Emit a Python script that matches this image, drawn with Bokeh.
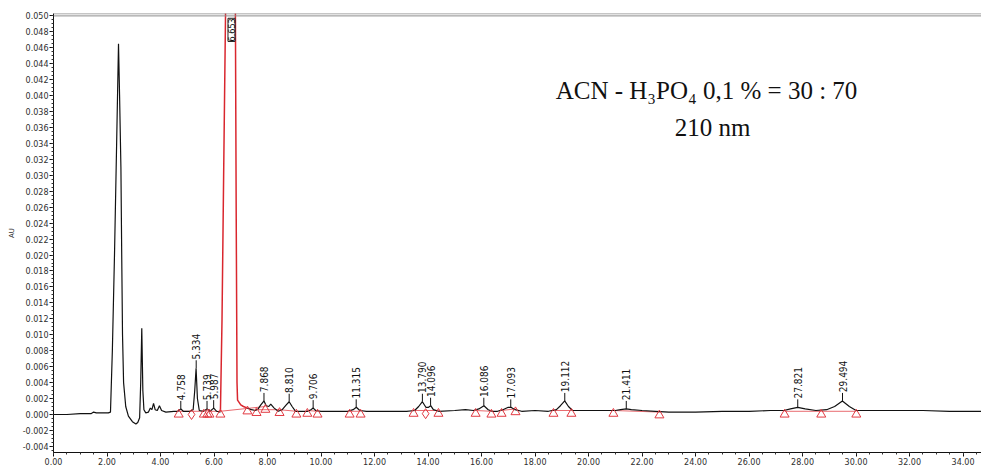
import math
from bokeh.plotting import figure
from bokeh.models import FixedTicker, PrintfTickFormatter, Span, Label, ColumnDataSource
from bokeh.core.properties import value
from bokeh.embed import file_html
from bokeh.resources import INLINE

# ---------------- data ----------------
# black detector trace (minutes, AU)
trace_t = [0.00, 0.50, 1.00, 1.40, 1.50, 1.60, 1.80, 2.05, 2.13, 2.20, 2.28, 2.36, 2.43,
           2.47, 2.52, 2.55, 2.58, 2.62, 2.70, 2.80, 2.95, 3.08, 3.15, 3.22, 3.26, 3.30,
           3.34, 3.38, 3.45, 3.55, 3.62, 3.68, 3.74, 3.80, 3.88, 3.96, 4.04, 4.20, 4.50,
           4.65, 4.76, 4.85, 5.10, 5.22, 5.28, 5.33, 5.38, 5.45, 5.60, 5.74, 5.85, 5.99,
           6.10, 6.24]
trace_v = [0.0000, 0.0000, 0.0001, 0.0001, 0.0003, 0.0002, 0.0002, 0.0002, 0.0003, 0.0080,
           0.0200, 0.0340, 0.0465, 0.0400, 0.0310, 0.0200, 0.0100, 0.0040, 0.0010, -0.0002,
           -0.0009, -0.0012, -0.0010, -0.0004, 0.0040, 0.0108, 0.0030, 0.0006, 0.0002, 0.0003,
           0.0008, 0.0006, 0.0014, 0.0006, 0.0005, 0.0011, 0.0005, 0.0003, 0.0004, 0.0004,
           0.0007, 0.0004, 0.0004, 0.0006, 0.0030, 0.0058, 0.0020, 0.0005, 0.0004, 0.0007,
           0.0004, 0.0008, 0.0004, 0.0003]

trace2_t = [7.25, 7.40, 7.55, 7.65, 7.75, 7.87, 7.95, 8.05, 8.12, 8.25, 8.40, 8.55, 8.70,
            8.81, 8.92, 9.05, 9.30, 9.50, 9.62, 9.71, 9.80, 10.0, 10.5, 11.0, 11.2, 11.32,
            11.45, 11.7, 12.5, 13.2, 13.5, 13.65, 13.79, 13.92, 14.02, 14.10, 14.2, 14.4,
            15.0, 15.4, 15.7, 15.9, 16.09, 16.25, 16.4, 16.6, 16.8, 17.0, 17.1, 17.25, 17.5,
            18.0, 18.5, 18.8, 18.95, 19.11, 19.25, 19.4, 20.0, 20.5, 21.0, 21.2, 21.41, 21.6,
            22.0, 22.5, 23.0, 24.0, 25.0, 26.0, 26.8, 27.3, 27.55, 27.82, 28.1, 28.5, 28.9,
            29.2, 29.49, 29.75, 30.0, 30.5, 31.5, 32.5, 33.5, 34.7]
trace2_v = [0.0008, 0.0006, 0.0005, 0.0007, 0.0012, 0.0017, 0.0011, 0.0010, 0.0013, 0.0008,
            0.0004, 0.0006, 0.0012, 0.0016, 0.0010, 0.0004, 0.0004, 0.0004, 0.0006, 0.0008,
            0.0005, 0.0004, 0.0004, 0.0004, 0.0006, 0.0009, 0.0005, 0.0004, 0.0004, 0.0004,
            0.0005, 0.0010, 0.0016, 0.0009, 0.0009, 0.0011, 0.0006, 0.0004, 0.0005, 0.0006,
            0.0005, 0.0007, 0.0011, 0.0006, 0.0004, 0.0004, 0.0006, 0.0009, 0.0009, 0.0006,
            0.0004, 0.0005, 0.0004, 0.0006, 0.0011, 0.0017, 0.0010, 0.0005, 0.0005, 0.0005,
            0.0005, 0.0006, 0.0007, 0.0006, 0.0005, 0.0004, 0.0003, 0.0003, 0.0004, 0.0004,
            0.0005, 0.0005, 0.0007, 0.0009, 0.0007, 0.0005, 0.0006, 0.0010, 0.0017, 0.0010,
            0.0005, 0.0005, 0.0005, 0.0005, 0.0004, 0.0004]

# integrated main peak (red, off scale)
peak_t = [6.24, 6.30, 6.36, 6.43, 6.50, 6.65, 6.76, 6.80, 6.83, 6.86, 6.88, 7.00, 7.10, 7.25]
peak_v = [0.0004, 0.0120, 0.0300, 0.0500, 0.1000, 0.2000, 0.1000, 0.0500, 0.0250, 0.0040,
          0.0018, 0.0012, 0.0010, 0.0008]
main_peak_label = "6.653"
main_peak_time = 6.653

# labelled peaks
label_times = [4.758, 5.334, 5.739, 5.987, 7.868, 8.810, 9.706, 11.315, 13.790, 14.096,
               16.086, 17.093, 19.112, 21.411, 27.821, 29.494]
label_texts = ["4.758", "5.334", "5.739", "5.987", "7.868", "8.810", "9.706", "11.315",
               "13.790", "14.096", "16.086", "17.093", "19.112", "21.411", "27.821", "29.494"]
label_apex = [0.0007, 0.0058, 0.0007, 0.0008, 0.0017, 0.0016, 0.0008, 0.0009, 0.0016, 0.0011,
              0.0011, 0.0009, 0.0017, 0.0007, 0.0009, 0.0017]

# peak start / end markers
tri_t = [4.68, 5.62, 5.75, 5.83, 6.24, 7.25, 7.59, 7.92, 8.45, 9.08, 9.49, 9.87, 11.07, 11.48,
         13.46, 14.39, 15.78, 16.37, 16.75, 17.27, 18.69, 19.36, 20.93, 22.65, 27.33, 28.70, 30.01]
tri_y = [0.0000, 0.0000, 0.0000, 0.0000, 0.0000, 0.0004, 0.0002, 0.0006, 0.0002, 0.0000,
         0.0001, 0.0000, 0.0000, 0.0000, 0.0001, 0.0001, 0.0001, 0.0000, 0.0001, 0.0003,
         0.0001, 0.0001, 0.0001, -0.0001, 0.0000, 0.0000, 0.0000]
dia_t = [5.16, 13.91]
dia_y = [0.0000, 0.0001]

# integration baselines
bl_t0 = [4.68, 5.16, 5.83, 6.24, 7.59, 8.45, 9.49, 11.07, 13.46, 13.91, 15.78, 16.75, 18.69, 20.93, 27.33, 28.70]
bl_t1 = [5.16, 5.62, 6.24, 7.92, 8.45, 9.08, 9.87, 11.48, 13.91, 14.39, 16.37, 17.27, 19.36, 22.65, 28.70, 30.01]
bl_y0 = [0.0004, 0.0004, 0.0004, 0.0004, 0.0006, 0.0006, 0.0005, 0.0004, 0.0005, 0.0005, 0.0005, 0.0005, 0.0005, 0.0005, 0.0004, 0.0004]
bl_y1 = [0.0004, 0.0004, 0.0004, 0.0010, 0.0006, 0.0004, 0.0004, 0.0004, 0.0005, 0.0005, 0.0004, 0.0007, 0.0005, 0.0003, 0.0004, 0.0004]

x_ticks = [0, 2, 4, 6, 8, 10, 12, 14, 16, 18, 20, 22, 24, 26, 28, 30, 32, 34]
y_ticks = [-0.004, -0.002, 0.000, 0.002, 0.004, 0.006, 0.008, 0.010, 0.012, 0.014, 0.016,
           0.018, 0.020, 0.022, 0.024, 0.026, 0.028, 0.030, 0.032, 0.034, 0.036, 0.038,
           0.040, 0.042, 0.044, 0.046, 0.048, 0.050]

title_line1 = "ACN - H\u2083PO\u2084 0,1 % = 30 : 70"
title_line2 = "210 nm"

# ---------------- figure ----------------
p = figure(width=981, height=468, output_backend="svg", toolbar_location=None,
           x_range=(0, 34.69), y_range=(-0.00477, 0.0503),
           min_border_left=53, min_border_right=0, min_border_top=13, min_border_bottom=16)
p.outline_line_color = None
p.grid.visible = False
p.background_fill_color = "white"
p.border_fill_color = "white"

x_minor = [i * 0.5 for i in range(0, 70)]
y_minor = [-0.0045 + i * 0.0005 for i in range(0, 110)]
p.xaxis.ticker = FixedTicker(ticks=x_ticks, minor_ticks=x_minor)
p.yaxis.ticker = FixedTicker(ticks=y_ticks, minor_ticks=y_minor)
p.xaxis.formatter = PrintfTickFormatter(format="%.2f")
p.yaxis.formatter = PrintfTickFormatter(format="%.3f")
for ax in (p.xaxis, p.yaxis):
    ax.major_tick_out = 4
    ax.major_tick_in = 0
    ax.minor_tick_out = 2
    ax.minor_tick_in = 0
    ax.major_label_standoff = 1
    ax.major_label_text_font = "DejaVu Sans"
    ax.major_label_text_font_size = "8px"
    ax.major_label_text_color = "#2e2e2e"
    ax.axis_line_color = "#111111"
    ax.major_tick_line_color = "#111111"
    ax.minor_tick_line_color = "#333333"
p.yaxis.axis_label = "AU"
p.yaxis.axis_label_text_font = "DejaVu Sans"
p.yaxis.axis_label_text_font_size = "7px"
p.yaxis.axis_label_text_font_style = "normal"
p.yaxis.axis_label_standoff = 4
p.yaxis.axis_label_text_color = "#333333"

# top double line
p.add_layout(Span(location=0.0503, dimension="width", line_color="#8c8c8c", line_width=1.5))
p.add_layout(Span(location=0.0500, dimension="width", line_color="#8c8c8c", line_width=1))

red = "#d9262e"
# integration baselines
p.segment(x0=bl_t0, y0=bl_y0, x1=bl_t1, y1=bl_y1, line_color="#e86a6f", line_width=1)

# traces
p.line(trace_t, trace_v, line_color="#111111", line_width=1.2)
p.line(trace2_t, trace2_v, line_color="#111111", line_width=1.2)
p.line(peak_t, peak_v, line_color=red, line_width=1.5)

# markers
p.scatter(tri_t, tri_y, marker="triangle", size=9, fill_color=None, line_color="#e23a42", line_width=1)
p.scatter(dia_t, dia_y, marker="diamond", size=10, fill_color=None, line_color="#e23a42", line_width=1)

# peak labels
tick_top = [a + 0.0010 for a in label_apex]
src = ColumnDataSource(dict(t=label_times, a=label_apex, top=tick_top,
                            txt_y=[a + 0.0011 for a in label_apex], txt=label_texts))
p.segment(x0="t", y0="a", x1="t", y1="top", source=src, line_color="#111111", line_width=1)
p.text(x="t", y="txt_y", text="txt", source=src, angle=math.pi / 2,
       text_align="left", text_baseline="middle",
       text_font=value("Liberation Sans Narrow, DejaVu Sans Condensed, sans-serif"),
       text_font_size="10px", text_color="#111111")

p.add_layout(Label(x=main_peak_time, y=0.0497, text=main_peak_label, angle=math.pi / 2,
                   text_align="right", text_baseline="middle",
                   text_font="Liberation Sans Narrow, DejaVu Sans Condensed, sans-serif",
                   text_font_size="9px", text_color="#111111",
                   background_fill_color="white", border_line_color="#222222",
                   border_line_width=1, padding=0))

# annotation
p.add_layout(Label(x=24.41, y=0.04065, text=title_line1, text_align="center",
                   text_baseline="alphabetic", text_font="Liberation Serif",
                   text_font_size="25px", text_color="#111111"))
p.add_layout(Label(x=24.64, y=0.0360, text=title_line2, text_align="center",
                   text_baseline="alphabetic", text_font="Liberation Serif",
                   text_font_size="25px", text_color="#111111"))

open("out.html", "w").write(file_html(p, INLINE))
